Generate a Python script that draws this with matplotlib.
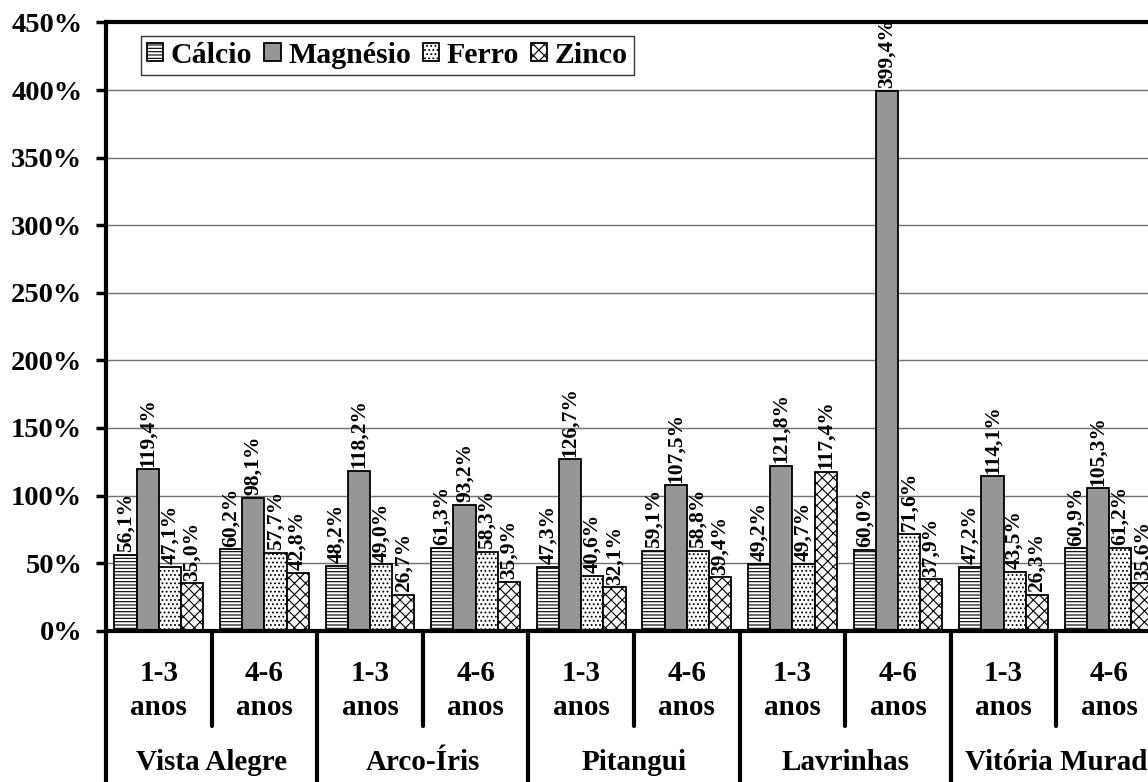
import matplotlib
matplotlib.use("Agg")
import matplotlib.pyplot as plt
import matplotlib.transforms as mtransforms
import numpy as np

plt.rcParams['font.family'] = ['Liberation Serif', 'DejaVu Serif']
plt.rcParams['font.weight'] = 'bold'
plt.rcParams['hatch.linewidth'] = 0.8

schools = ["Vista Alegre", "Arco-Íris", "Pitangui", "Lavrinhas", "Vitória Murad"]
ages = ["1-3", "4-6"]
series_names = ["Cálcio", "Magnésio", "Ferro", "Zinco"]

calcio   = [56.1, 60.2, 48.2, 61.3, 47.3, 59.1, 49.2, 60.0, 47.2, 60.9]
magnesio = [119.4, 98.1, 118.2, 93.2, 126.7, 107.5, 121.8, 399.4, 114.1, 105.3]
ferro    = [47.1, 57.7, 49.0, 58.3, 40.6, 58.8, 49.7, 71.6, 43.5, 61.2]
zinco    = [35.0, 42.8, 26.7, 35.9, 32.1, 39.4, 117.4, 37.9, 26.3, 35.6]

yticks = [0, 50, 100, 150, 200, 250, 300, 350, 400, 450]

series = [calcio, magnesio, ferro, zinco]
styles = [
    dict(facecolor='white', hatch='-----'),
    dict(facecolor='#969696', hatch=None),
    dict(facecolor='white', hatch='....'),
    dict(facecolor='white', hatch='xxx'),
]

fig = plt.figure(figsize=(11.48, 7.82), dpi=100)
ax = fig.add_axes([0.0923, 0.19348, 0.9199, 0.77775])

n = len(calcio)
x = np.arange(n)
w = 0.21
offsets = [-1.5 * w, -0.5 * w, 0.5 * w, 1.5 * w]

for vals, st, name, off in zip(series, styles, series_names, offsets):
    ax.bar(x + off, vals, w, facecolor=st['facecolor'], hatch=st['hatch'],
           edgecolor='black', linewidth=1.3, label=name, zorder=2)
    for xi, v in zip(x, vals):
        ax.annotate(f"{v:.1f}%".replace('.', ','), xy=(xi + off, v), xytext=(0, 2),
                    textcoords='offset points', rotation=90, ha='center', va='bottom',
                    fontsize=15.5, fontweight='bold', zorder=3, clip_on=True,
                    annotation_clip=False)

ax.set_xlim(-0.5, n - 0.5)
ax.set_ylim(0, 450)
ax.set_yticks(yticks)
ax.set_yticklabels([f"{t}%" for t in yticks], fontsize=20.5, fontweight='bold')
ax.tick_params(axis='y', direction='out', length=7, width=2.5, pad=10)
ax.set_xticks([])

ax.set_axisbelow(True)
ax.yaxis.grid(True, color='#707070', linewidth=1.0)

for s in ['left', 'bottom', 'top']:
    ax.spines[s].set_linewidth(3)
    ax.spines[s].set_color('black')
    ax.spines[s].set_zorder(10)
ax.spines['right'].set_visible(False)

trans = mtransforms.blended_transform_factory(ax.transData, ax.transAxes)

# sub-group dividers
for b in np.arange(0.5, n, 2):
    ax.plot([b, b], [0, -0.157], transform=trans, color='black', lw=3,
            clip_on=False, solid_capstyle='round')
# main-group dividers
for b in np.arange(-0.5, n + 0.5, 2):
    ax.plot([b, b], [0, -0.30], transform=trans, color='black', lw=3,
            clip_on=False, solid_capstyle='butt')

for i in range(n):
    ax.text(i, -0.0696, ages[i % 2], transform=trans, ha='center', va='center',
            fontsize=21, fontweight='bold')
    ax.text(i, -0.127, "anos", transform=trans, ha='center', va='center',
            fontsize=21, fontweight='bold')

for j, sname in enumerate(schools):
    ax.text(2 * j + 0.5, -0.2166, sname, transform=trans, ha='center', va='center',
            fontsize=21, fontweight='bold')

leg = ax.legend(loc='upper left', bbox_to_anchor=(0.033, 0.978), ncol=4,
                fontsize=21.5, frameon=True, fancybox=False, shadow=False,
                handlelength=0.55, handleheight=0.55, handletextpad=0.25,
                columnspacing=0.4, borderpad=0.2, borderaxespad=0.0)
leg.get_frame().set_edgecolor('black')
leg.get_frame().set_linewidth(1.0)
leg.set_zorder(11)
for t in leg.get_texts():
    t.set_fontweight('bold')

fig.savefig("out.png", dpi=100)
